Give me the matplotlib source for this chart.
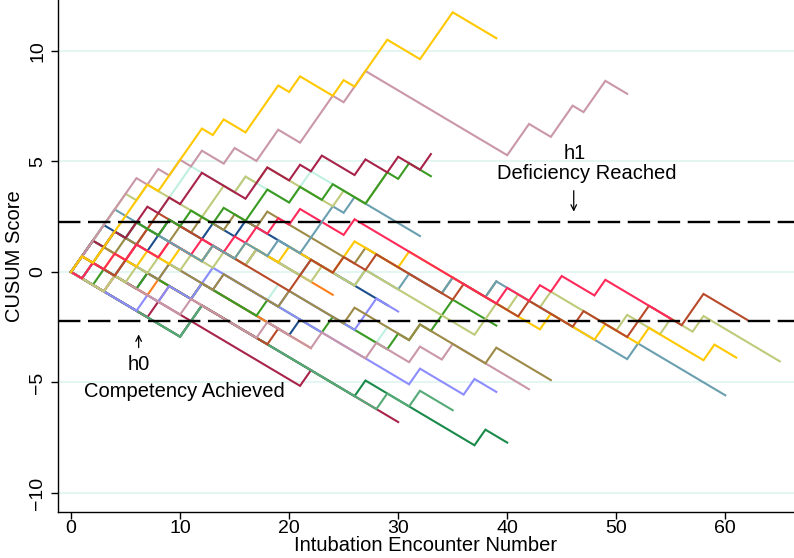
import matplotlib
matplotlib.use("Agg")
import matplotlib.pyplot as plt
import numpy as np

# CUSUM: p0=0.2, p1=0.4, alpha=beta=0.1 -> s = 0.293, h = 2.24
S_STEP = 0.293
H_LIMIT = 2.24

# per trainee: number of encounters, encounters that failed, line colour
n_enc = [30, 40, 22, 35, 25, 29, 29, 21, 22, 24, 19, 39, 30, 39, 42, 44, 39,
         60, 65, 61, 62, 55, 32, 29, 33, 33, 51, 39]
fail_at = [
    [11, 12],
    [11, 12, 27, 38],
    [8, 22],
    [11, 12, 29, 32],
    [1, 3, 5, 6, 8, 9, 10, 11, 16, 21, 22],
    [2, 5, 9, 13, 19, 29],
    [1, 2, 3, 8, 9, 13, 16],
    [2, 7, 12, 21],
    [4, 8, 12],
    [1, 3, 6, 9, 13, 17],
    [4, 9, 19],
    [3, 7, 12, 18, 24, 30, 32, 34, 35],
    [2, 5, 9, 13, 20, 27, 28],
    [7, 9, 12, 14, 32, 37],
    [4, 11, 18, 23, 28, 32, 35],
    [2, 5, 9, 14, 20, 26, 32, 39],
    [1, 3, 5, 7, 10, 12, 15, 18, 27, 35, 39],
    [1, 2, 4, 6, 13, 17, 22, 27, 31, 35, 39, 52],
    [4, 6, 8, 11, 14, 17, 23, 27, 38, 39, 41, 44, 51, 55, 58],
    [1, 4, 7, 10, 13, 16, 20, 25, 26, 31, 44, 49, 53, 59],
    [1, 5, 6, 7, 8, 21, 22, 25, 28, 36, 42, 47, 52, 53, 57, 58],
    [2, 4, 6, 9, 12, 15, 17, 19, 21, 26, 40, 43, 45, 49],
    [1, 2, 3, 4, 13, 16, 19, 22, 23, 24, 26],
    [1, 2, 3, 4, 5, 7, 13, 14, 16, 18, 25, 28, 29],
    [1, 2, 4, 6, 9, 11, 14, 17, 18, 21, 24, 28, 29, 31],
    [1, 2, 4, 6, 7, 9, 11, 12, 17, 18, 21, 23, 27, 30, 33],
    [1, 2, 3, 4, 5, 6, 8, 10, 12, 15, 18, 19, 22, 23, 24, 26, 27, 41, 42, 45,
     46, 48, 49],
    [1, 3, 4, 5, 6, 7, 9, 10, 11, 12, 14, 17, 18, 19, 21, 25, 27, 28, 29, 33,
     34, 35],
]
colors = ["#a8234a", "#1a8a4a", "#a8234a", "#55aa77", "#c0f0e0", "#c0f0e0",
          "#1b4f8c", "#1b4f8c", "#ff7f1a", "#ff7f1a", "#b84a2a", "#3a9a22",
          "#8c8cff", "#8c8cff", "#c997a8", "#9c8a46", "#9c8a46", "#6a9fb0",
          "#bfcb7a", "#ffc800", "#b84a2a", "#ff2a5a", "#6a9fb0", "#bfcb7a",
          "#3a9a22", "#a8234a", "#c997a8", "#ffc800"]

x_ticks = [0, 10, 20, 30, 40, 50, 60]
y_ticks = [-10, -5, 0, 5, 10]


def cusum(n, fails):
    out = np.zeros(n + 1)
    f = set(fails)
    for k in range(1, n + 1):
        out[k] = out[k - 1] + (1 - S_STEP if k in f else -S_STEP)
    return out


plt.rcParams["font.family"] = ["Liberation Sans", "DejaVu Sans"]
fig = plt.figure(figsize=(7.94, 5.58), dpi=100)
ax = fig.add_axes([0.073, 0.0824, 0.927, 0.9176])

for yv in y_ticks:
    ax.axhline(yv, color="#e2f6f0", lw=1.3, zorder=0)

for n, fails, c in zip(n_enc, fail_at, colors):
    y = cusum(n, fails)
    ax.plot(np.arange(n + 1), y, color=c, lw=1.5, solid_joinstyle="miter", zorder=2)

for hv in (H_LIMIT, -H_LIMIT):
    ax.axhline(hv, color="black", lw=1.7, dashes=(9.5, 3.2), zorder=3)

fs = 14.5
ax.text(46.2, 5.37, "h1", ha="center", va="center", fontsize=fs)
ax.text(47.3, 4.47, "Deficiency Reached", ha="center", va="center", fontsize=fs)
ax.annotate("", xy=(46.1, 2.6), xytext=(46.1, 3.8),
            arrowprops=dict(arrowstyle="->", lw=0.9, color="black"))
ax.text(6.2, -4.2, "h0", ha="center", va="center", fontsize=fs)
ax.text(10.4, -5.41, "Competency Achieved", ha="center", va="center", fontsize=fs)
ax.annotate("", xy=(6.2, -2.7), xytext=(6.2, -3.55),
            arrowprops=dict(arrowstyle="->", lw=0.9, color="black"))

ax.set_xlim(-1.2, 66.3)
ax.set_ylim(-10.86, 12.3)
ax.set_xticks(x_ticks)
ax.set_yticks(y_ticks)
ax.tick_params(axis="both", direction="out", length=5, width=1, labelsize=14)
ax.tick_params(axis="x", pad=1)
for lab in ax.get_yticklabels():
    lab.set_rotation(90)
    lab.set_va("center")
ax.set_xlabel("Intubation Encounter Number", fontsize=fs, labelpad=-1)
ax.set_ylabel("CUSUM Score", fontsize=fs, labelpad=4)
for side in ("top", "right"):
    ax.spines[side].set_visible(False)
for side in ("left", "bottom"):
    ax.spines[side].set_linewidth(1.0)

fig.savefig("out.png", dpi=100)
